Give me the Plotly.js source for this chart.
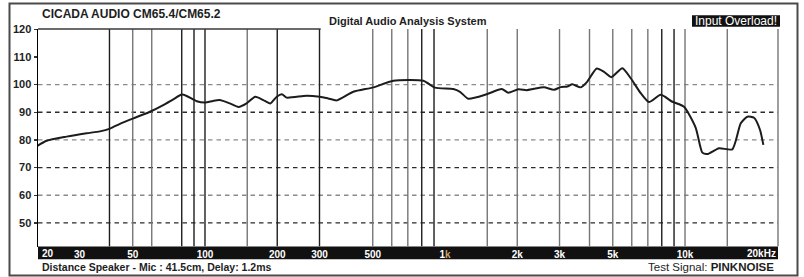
<!DOCTYPE html>
<html>
<head>
<meta charset="utf-8">
<script src="https://cdn.plot.ly/plotly-3.0.1.min.js"></script>
<style>
  html, body { margin: 0; padding: 0; background: #fff; }
  #chart { width: 804px; height: 277px; }
</style>
</head>
<body>
<div id="chart"></div>
<script>
// ---- data ----
const freqHz = [20, 21.9, 26.5, 32.1, 36.5, 40.2, 44.2, 50.3, 59, 67, 73.8, 80, 83.9, 92.4, 100, 108, 115, 127, 138, 149, 162, 175, 187, 199, 209, 219, 265, 301, 326, 354, 415, 503, 609, 812, 908, 1083, 1155, 1250, 1492, 1723, 1835, 2021, 2190, 2349, 2585, 2846, 3034, 3233, 3391, 3676, 3916, 4287, 4597, 4930, 5481, 5940, 6539, 7079, 7922, 8855, 9904, 11080, 11810, 12390, 13860, 15740, 17070, 18180, 19390, 20540, 21200];
const splDb = [77.8, 79.7, 81.2, 82.4, 83.1, 84.1, 85.8, 87.8, 90.2, 92.6, 94.7, 96.4, 95.9, 94.0, 93.5, 94.1, 94.4, 93.2, 91.9, 93.2, 95.6, 94.4, 93.2, 95.6, 96.5, 95.3, 96.0, 95.6, 95.0, 94.3, 97.4, 99.0, 101.4, 101.4, 98.9, 98.4, 97.4, 94.9, 96.5, 98.4, 97.1, 98.3, 98.0, 98.5, 99.0, 98.1, 99.1, 99.3, 100.1, 99.0, 101.1, 105.8, 104.6, 102.7, 105.9, 102.3, 96.9, 93.7, 96.3, 93.8, 92.0, 84.4, 75.4, 74.9, 77.0, 76.6, 86.0, 88.4, 88.0, 83.6, 78.2];

const xTickVals = [30, 50, 100, 200, 300, 500, 1000, 2000, 3000, 5000, 10000];
const xTickText = ['30', '50', '100', '200', '300', '500', '1<span style="color:#c9a46c">k</span>', '2k', '3k', '5k', '10k'];
const xEdgeLabels = ['20', '20kHz'];
const yTickVals = [50, 60, 70, 80, 90, 100, 110, 120];
const hGridDb = [50, 60, 70, 80, 90, 100];
const vGridHz = [40, 50, 60, 80, 90, 100, 150, 200, 300, 500, 600, 700, 800, 900, 1500, 2000, 3000, 4000, 5000, 6000, 7000, 8000, 9000, 10000, 15000];
const darkGridHz = [40, 80, 90, 100, 200, 300, 800, 900, 8000, 9000];
const darkGridDb = [50, 70, 90];

const titleText = 'CICADA AUDIO CM65.4/CM65.2';
const systemText = 'Digital Audio Analysis System';
const overloadText = 'Input Overload!';
const distanceText = 'Distance Speaker - Mic : 41.5cm, Delay: 1.2ms';
const signalLabel = 'Test Signal: ';
const signalName = 'PINKNOISE';

// ---- layout helpers (pixel -> paper) ----
const W = 804, H = 277;
const PL = 38, PR = 778, PT = 29, PB = 247;
const px = x => (x - PL) / (PR - PL);
const py = y => (PB - y) / (PB - PT);
const FONT = 'Liberation Sans, Arial, Helvetica, sans-serif';

const shapes = [];
// outer frame
shapes.push({type: 'rect', xref: 'paper', yref: 'paper', x0: px(9.5), x1: px(797.5), y0: py(275.5), y1: py(3.5),
  line: {color: '#4a4a4a', width: 2}, layer: 'below'});
// black frequency band (below axis labels)
shapes.push({type: 'rect', xref: 'paper', yref: 'paper', x0: 0, x1: 1, y0: py(259.3), y1: py(246.5),
  fillcolor: '#111', line: {width: 0}, layer: 'below'});
// horizontal dashed grid
hGridDb.forEach(v => shapes.push({type: 'line', xref: 'paper', yref: 'y', x0: 0, x1: 1, y0: v, y1: v,
  line: {color: darkGridDb.includes(v) ? '#2a2a2a' : '#8a8a8a', width: 1.3, dash: '4.5px,4px'}, layer: 'below'}));
// vertical grid
vGridHz.forEach(f => shapes.push({type: 'line', xref: 'x', yref: 'paper', x0: f, x1: f, y0: py(246.3), y1: 1,
  line: {color: darkGridHz.includes(f) ? '#1e1e1e' : '#767676', width: 1.4}, layer: 'below'}));
// right border of plot
shapes.push({type: 'line', xref: 'paper', yref: 'paper', x0: 1, x1: 1, y0: py(246.3), y1: 1, line: {color: '#767676', width: 1.4}, layer: 'below'});
// partial top border
shapes.push({type: 'line', xref: 'paper', yref: 'paper', x0: 0, x1: px(320.7), y0: 1, y1: 1, line: {color: '#3a3a3a', width: 1.5}});
// overload box
shapes.push({type: 'rect', xref: 'paper', yref: 'paper', x0: px(692), x1: px(780), y0: py(26.8), y1: py(15.2),
  fillcolor: '#111', line: {width: 0}});

const annotations = [
  {text: '<b>' + titleText + '</b>', xref: 'paper', yref: 'paper', x: px(39.5), y: py(14), xanchor: 'left', yanchor: 'middle',
   showarrow: false, font: {family: FONT, size: 12, color: '#1e1e1e'}},
  {text: '<b>' + systemText + '</b>', xref: 'paper', yref: 'paper', x: px(408), y: py(21), xanchor: 'center', yanchor: 'middle',
   showarrow: false, font: {family: FONT, size: 11, color: '#1e1e1e'}},
  {text: overloadText, xref: 'paper', yref: 'paper', x: px(736), y: py(21), xanchor: 'center', yanchor: 'middle',
   showarrow: false, font: {family: FONT, size: 12, color: '#ffffff'}},
  {text: '<b>' + distanceText + '</b>', xref: 'paper', yref: 'paper', x: px(39.5), y: py(267), xanchor: 'left', yanchor: 'middle',
   showarrow: false, font: {family: FONT, size: 10.5, color: '#1e1e1e'}},
  {text: signalLabel + '<b>' + signalName + '</b>', xref: 'paper', yref: 'paper', x: px(775.5), y: py(267), xanchor: 'right', yanchor: 'middle',
   showarrow: false, font: {family: FONT, size: 11.5, color: '#1e1e1e'}},
  {text: '<b>' + xEdgeLabels[0] + '</b>', xref: 'paper', yref: 'paper', x: px(39.5), y: py(253.3), xanchor: 'left', yanchor: 'middle',
   showarrow: false, font: {family: FONT, size: 10, color: '#ffffff'}},
  {text: '<b>' + xEdgeLabels[1] + '</b>', xref: 'paper', yref: 'paper', x: px(778), y: py(253.3), xanchor: 'right', yanchor: 'middle',
   showarrow: false, font: {family: FONT, size: 10, color: '#ffffff'}}
];

const trace = {
  x: freqHz, y: splDb, type: 'scatter', mode: 'lines',
  line: {color: '#1c1c1c', width: 2, shape: 'spline', smoothing: 0.6},
  hoverinfo: 'skip', cliponaxis: false
};

const layout = {
  width: W, height: H,
  margin: {l: PL, r: W - PR, t: PT, b: H - PB, pad: 0},
  paper_bgcolor: '#ffffff', plot_bgcolor: 'rgba(0,0,0,0)',
  showlegend: false,
  font: {family: FONT},
  xaxis: {
    type: 'log', range: [Math.log10(20.15), Math.log10(24400)],
    showgrid: false, zeroline: false, showline: false, ticks: '',
    tickmode: 'array', tickvals: xTickVals, ticktext: xTickText,
    tickfont: {family: FONT, size: 10, color: '#ffffff', weight: 'bold'},
    ticklabelstandoff: 0, fixedrange: true
  },
  yaxis: {
    range: [41.3, 120.1], showgrid: false, zeroline: false,
    showline: true, linecolor: '#000', linewidth: 1.5, mirror: false,
    ticks: 'outside', ticklen: 3, tickwidth: 1.2, tickcolor: '#333',
    tickmode: 'array', tickvals: yTickVals,
    tickfont: {family: FONT, size: 11, color: '#1e1e1e', weight: 'bold'},
    fixedrange: true
  },
  shapes: shapes,
  annotations: annotations
};

Plotly.newPlot('chart', [trace], layout, {staticPlot: true, displayModeBar: false});
</script>
</body>
</html>
